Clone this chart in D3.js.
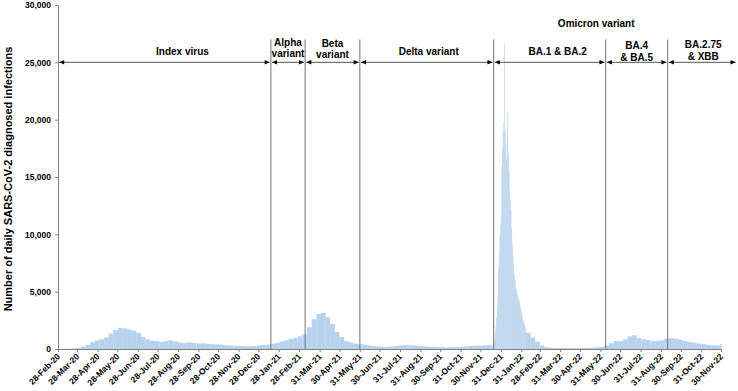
<!DOCTYPE html>
<html><head><meta charset="utf-8">
<script src="https://cdn.jsdelivr.net/npm/d3@7"></script>
<style>
html,body{margin:0;padding:0;background:#fff;}
svg text{font-family:"Liberation Sans",Arial,sans-serif;font-weight:bold;fill:#000;}
</style></head><body>
<svg id="chart" width="738" height="391"></svg>
<script>
// ---- data (average daily diagnosed infections per period) ----
const weeklyStart1 = "2020-02-28";
const weeklyCases1 = [
  0, 20, 30, 50, 90, 200, 350, 600, 750, 850,
  1000, 1350, 1650, 1850, 1800, 1700, 1600, 1400, 1050, 850,
  720, 680, 600, 720, 750, 650, 560, 520, 580, 520,
  480, 500, 450, 420, 400, 380, 330, 300, 280, 260,
  240, 230, 250, 300, 350, 380, 450, 520, 650, 750,
  880, 950, 1100, 1300, 1900, 2600, 3050, 3150, 2750, 2200,
  1500, 1050, 700, 560, 480, 420, 380, 300, 250, 210,
  190, 180, 220, 280, 320, 340, 330, 300, 260, 230,
  200, 180, 160, 150, 150, 160, 170, 190, 220, 260,
  290, 300, 320, 330
];
const dailyStart = "2021-12-17";
const dailyCases = [
  350, 330, 380, 500, 800, 1400, 2000, 2800, 3600, 4600,
  7000, 8500, 9900, 10800, 11500, 16000, 17500, 19700, 18800, 26700,
  19000, 17800, 16500, 18500, 20700, 17100, 15500, 14000, 13000, 12100,
  10500, 9200, 8000, 7200, 6500, 6000, 5500, 5200, 4900, 4700,
  4500, 4300, 4100, 3800, 3500, 3200, 2800, 2500, 2400, 2200,
  2000, 1800
];
const weeklyStart2 = "2022-02-07";
const weeklyCases2 = [
  1400, 1000, 650, 300, 150, 100, 90, 90, 90, 80,
  80, 80, 90, 100, 120, 150, 180, 300, 500, 700,
  680, 850, 1100, 1200, 950, 850, 780, 700, 720, 760,
  900, 950, 900, 820, 700, 620, 550, 480, 420, 360,
  320, 300, 420
];
const tickLabels = [
  "28-Feb-20","28-Mar-20","28-Apr-20","28-May-20","28-Jun-20","28-Jul-20","28-Aug-20",
  "28-Sep-20","28-Oct-20","28-Nov-20","28-Dec-20","28-Jan-21","28-Feb-21","31-Mar-21",
  "30-Apr-21","31-May-21","30-Jun-21","31-Jul-21","31-Aug-21","30-Sep-21","31-Oct-21",
  "30-Nov-21","31-Dec-21","31-Jan-22","28-Feb-22","31-Mar-22","30-Apr-22","31-May-22",
  "30-Jun-22","31-Jul-22","31-Aug-22","30-Sep-22","31-Oct-22","30-Nov-22"
];
const yTicks = [0, 5000, 10000, 15000, 20000, 25000, 30000];
const variantBoundaries = ["2020-02-28","2021-01-16","2021-03-09","2021-05-31","2021-12-20","2022-06-08","2022-09-10","2022-12-24"];
const variantLabels = [["Index virus"],["Alpha","variant"],["Beta","variant"],["Delta variant"],["BA.1 & BA.2"],["BA.4","& BA.5"],["BA.2.75","& XBB"]];
const groupLabel = "Omicron variant";
const yTitle = "Number of daily SARS-CoV-2 diagnosed infections";
const xDomain = ["2020-02-28","2022-11-30"];
const arrowLevel = 25000;
const lineTop = 27000;

// ---- layout ----
const W = 738, H = 391;
const m = {left: 58, right: 17, top: 5, bottom: 42};
const labelShift = [18, 0, 0, 2, 8, 0, 1];
const labelY = [[51],[42,53],[43,54],[51.5],[51.5],[45,57],[44,56]];

const parseISO = d3.utcParse("%Y-%m-%d");
const parseTick = d3.utcParse("%d-%b-%y");

const x = d3.scaleUtc().domain(xDomain.map(parseISO)).range([m.left, W - m.right]);
const y = d3.scaleLinear().domain([0, 30000]).range([H - m.bottom, m.top]);

function segment(start, values, step) {
  const s = parseISO(start);
  return values.map((v, i) => ({
    start: d3.utcDay.offset(s, i * step),
    end: d3.utcDay.offset(s, (i + 1) * step),
    value: v
  }));
}
const bars = [].concat(
  segment(weeklyStart1, weeklyCases1, 7),
  segment(dailyStart, dailyCases, 1),
  segment(weeklyStart2, weeklyCases2, 7)
);

const svg = d3.select("#chart");
const xMax = x.range()[1];

svg.append("g").selectAll("rect").data(bars).join("rect")
  .attr("x", d => x(d.start))
  .attr("width", d => Math.max(0, Math.min(x(d.end), xMax + 0.5) - x(d.start)))
  .attr("y", d => y(d.value))
  .attr("height", d => y(0) - y(d.value))
  .attr("fill", "#9dc3e6")
  .attr("fill-opacity", 0.75);

// vertical variant lines
const bounds = variantBoundaries.map(parseISO);
svg.append("g").selectAll("line").data(bounds.slice(1, -1)).join("line")
  .attr("x1", d => x(d)).attr("x2", d => x(d))
  .attr("y1", y(0)).attr("y2", y(lineTop))
  .attr("stroke", "#7f7f7f").attr("stroke-width", 1.1);

// arrow marker
const defs = svg.append("defs");
defs.append("marker").attr("id", "ah")
  .attr("viewBox", "0 0 10 10").attr("refX", 10).attr("refY", 5)
  .attr("markerWidth", 6).attr("markerHeight", 5)
  .attr("markerUnits", "userSpaceOnUse")
  .attr("orient", "auto-start-reverse")
  .append("path").attr("d", "M0,0.5 L10,5 L0,9.5 Z").attr("fill", "#000");

const segs = d3.pairs(bounds);
const ay = y(arrowLevel);
svg.append("g").selectAll("line").data(segs).join("line")
  .attr("x1", d => x(d[0]) + 1.2)
  .attr("x2", d => x(d[1]) - 1.2)
  .attr("y1", ay).attr("y2", ay)
  .attr("stroke", "#555").attr("stroke-width", 1)
  .attr("marker-start", "url(#ah)").attr("marker-end", "url(#ah)");

// variant labels
const lab = svg.append("g").attr("font-size", 10).attr("text-anchor", "middle");
variantLabels.forEach((lines, i) => {
  const cx = (x(segs[i][0]) + x(segs[i][1])) / 2 + labelShift[i];
  lines.forEach((t, j) => {
    lab.append("text").attr("x", cx).attr("y", labelY[i][j] + 3.6).text(t);
  });
});
lab.append("text")
  .attr("x", (x(bounds[4]) + x(bounds[7])) / 2 - 19)
  .attr("y", 23 + 3.6).text(groupLabel);

// axes
const yAxis = svg.append("g").attr("transform", `translate(${m.left},0)`)
  .call(d3.axisLeft(y).tickValues(yTicks).tickFormat(d3.format(",")).tickSize(3).tickSizeOuter(0).tickPadding(4));
yAxis.selectAll("text").attr("font-size", 8.5).attr("fill", "#000");
yAxis.selectAll("line,path").attr("stroke", "#808080");

const tickDates = tickLabels.map(parseTick);
const xAxis = svg.append("g").attr("transform", `translate(0,${y(0)})`)
  .call(d3.axisBottom(x).tickValues(tickDates).tickSize(3).tickSizeOuter(0).tickFormat((d, i) => tickLabels[i]));
xAxis.selectAll("line,path").attr("stroke", "#808080");
xAxis.selectAll("text")
  .attr("font-size", 8.5).attr("fill", "#000")
  .attr("text-anchor", "end")
  .attr("y", 0).attr("x", 0).attr("dy", "0.35em")
  .attr("transform", "translate(0,6) rotate(-45)");

// y title
svg.append("text")
  .attr("transform", `translate(11.5,${(y(0) + y(30000)) / 2 + 2}) rotate(-90)`)
  .attr("text-anchor", "middle").attr("font-size", 11)
  .text(yTitle);
</script>
</body></html>
